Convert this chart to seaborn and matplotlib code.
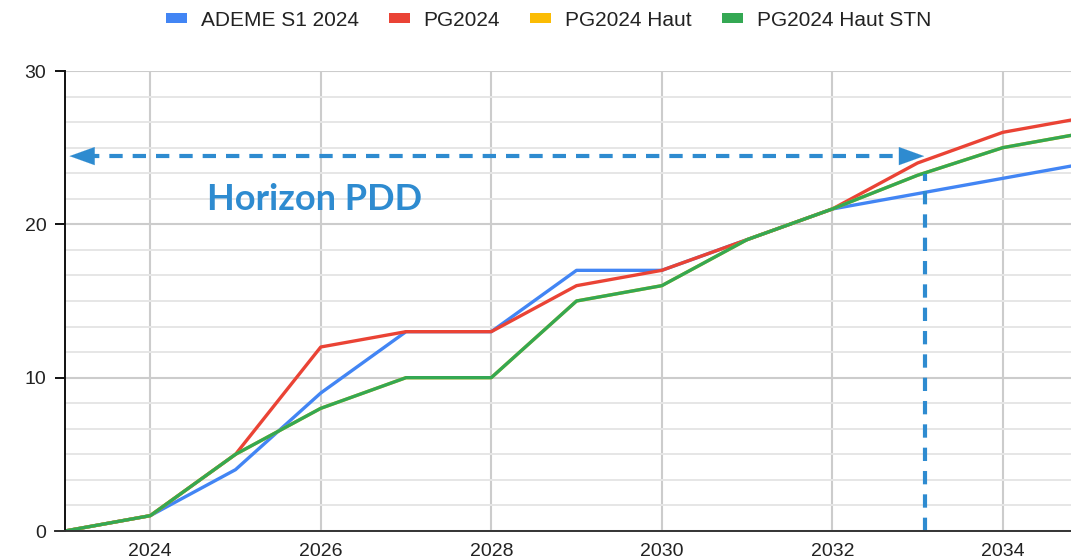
import numpy as np
import pandas as pd
import matplotlib
matplotlib.use("Agg")
import matplotlib.pyplot as plt
from matplotlib.patches import Patch
from matplotlib.ticker import MultipleLocator
import seaborn as sns

# Yearly values per scenario
years = [2023, 2024, 2025, 2026, 2027, 2028, 2029, 2030, 2031, 2032, 2033, 2034, 2035]
ademe_s1_2024 = [0, 1, 4, 9, 13, 13, 17, 17, 19, 21, 22, 23, 24]
pg2024 = [0, 1, 5, 12, 13, 13, 16, 17, 19, 21, 24, 26, 27]
pg2024_haut = [0, 1, 5, 8, 10, 10, 15, 16, 19, 21, 23.2, 25, 26]
pg2024_haut_stn = [0, 1, 5, 8, 10, 10, 15, 16, 19, 21, 23.2, 25, 26]

series_names = ["ADEME S1 2024", "PG2024", "PG2024 Haut", "PG2024 Haut STN"]
series_colors = ["#4285F4", "#EA4335", "#FBBC04", "#34A853"]
x_ticks = [2024, 2026, 2028, 2030, 2032, 2034]
y_ticks = [0, 10, 20, 30]

horizon_year = 2033.1
horizon_level = 24.45
horizon_top = 23.3
annot_color = "#2E8BD0"

frames = []
for name, vals in zip(series_names, [ademe_s1_2024, pg2024, pg2024_haut, pg2024_haut_stn]):
    frames.append(pd.DataFrame({"year": years, "value": vals, "serie": name}))
df = pd.concat(frames, ignore_index=True)

sns.set_theme(style="white")
plt.rcParams["font.family"] = ["Liberation Sans", "DejaVu Sans"]

fig = plt.figure(figsize=(10.71, 5.6), dpi=100)
ax = fig.add_axes([65 / 1071, 29 / 560, 1 - 65 / 1071, (531 - 71) / 560])

# grid
ax.yaxis.set_minor_locator(MultipleLocator(10 / 6))
ax.set_axisbelow(True)
ax.grid(axis="y", which="minor", color="#e6e6e6", lw=1.4)
ax.grid(axis="y", which="major", color="#cccccc", lw=1.5)
ax.grid(axis="x", which="major", color="#cccccc", lw=1.5)

sns.lineplot(data=df, x="year", y="value", hue="serie", hue_order=series_names,
             palette=series_colors, lw=2.4, ax=ax, legend=False)

ax.set_xlim(2023, 2034.8)
ax.set_ylim(0, 30)
ax.set_xticks(x_ticks)
ax.set_yticks(y_ticks)
ax.set_xlabel("")
ax.set_ylabel("")
ax.tick_params(axis="x", length=0, pad=9, labelsize=14, labelcolor="#222222")
ax.tick_params(axis="y", which="major", length=7.5, width=1.4, color="#111111",
               pad=6, labelsize=14, labelcolor="#222222", left=True)
ax.tick_params(axis="y", which="minor", length=0)

for side in ["top", "right"]:
    ax.spines[side].set_visible(False)
ax.spines["left"].set_color("#111111")
ax.spines["left"].set_linewidth(1.4)
ax.spines["bottom"].set_color("#333333")
ax.spines["bottom"].set_linewidth(1.4)
ax.spines["bottom"].set_bounds(2023 - 10 / 85.25, 2034.8)

# horizon annotation
ax.plot([2023.25, horizon_year - 0.22], [horizon_level, horizon_level], color=annot_color,
        lw=3, dashes=(3.2, 2.4), solid_capstyle="butt")
ax.plot([horizon_year - 0.01, horizon_year - 0.01], [0, horizon_top], color=annot_color,
        lw=3, dashes=(3.2, 2.4), solid_capstyle="butt")
head = "-|>,head_length=1.0,head_width=0.36"
ax.annotate("", xy=(2023.02, horizon_level), xytext=(2023.3, horizon_level),
            arrowprops=dict(arrowstyle=head, color=annot_color, lw=0.1, mutation_scale=18))
ax.annotate("", xy=(horizon_year + 0.01, horizon_level), xytext=(horizon_year - 0.28, horizon_level),
            arrowprops=dict(arrowstyle=head, color=annot_color, lw=0.1, mutation_scale=18))
ax.text(2024.67, 21.6, "Horizon PDD", color=annot_color, fontsize=26, fontweight="bold",
        family=["Lato", "DejaVu Sans"], va="center", ha="left")

handles = [Patch(facecolor=c, edgecolor="none", label=n) for n, c in zip(series_names, series_colors)]
fig.legend(handles=handles, loc="center", bbox_to_anchor=(548.5 / 1071, 1 - 20 / 560), ncol=4,
           frameon=False, fontsize=15, handlelength=1.0, handleheight=0.35,
           handletextpad=0.67, columnspacing=1.45, labelcolor="#222222")

fig.savefig("out.png", dpi=100)
